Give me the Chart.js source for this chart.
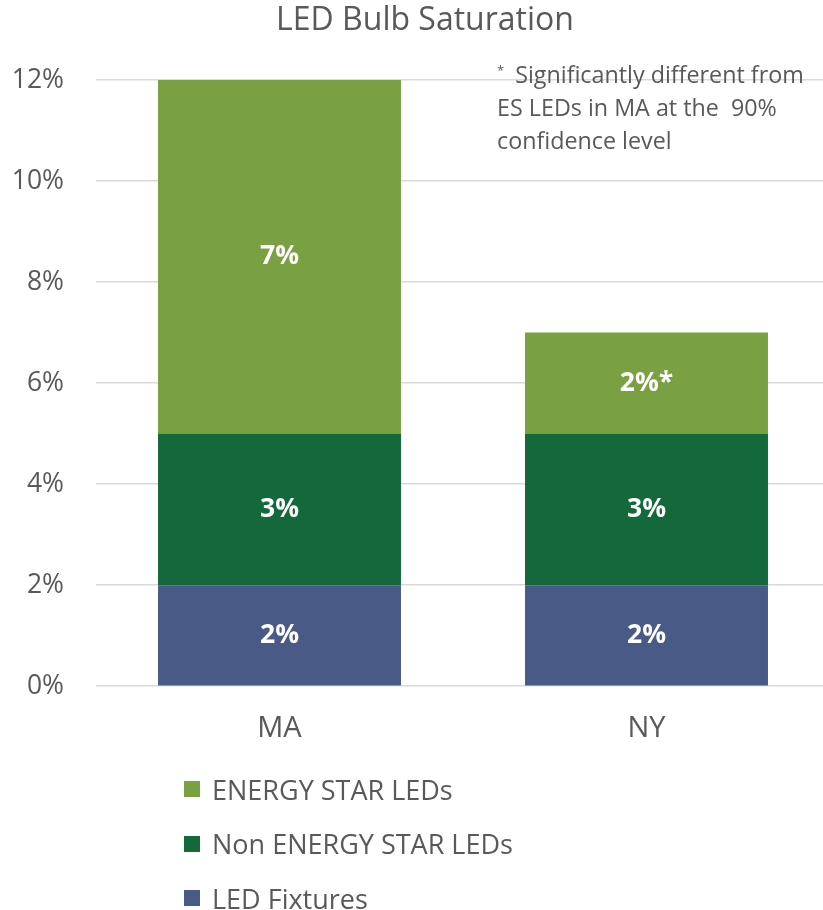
<!DOCTYPE html>
<html>
<head>
<meta charset="utf-8">
<script src="https://cdn.jsdelivr.net/npm/chart.js@4.4.0/dist/chart.umd.min.js"></script>
<style>
	html, body { margin: 0; padding: 0; background: #fff; overflow: hidden; }
	#wrap { position: relative; width: 840px; height: 910px; font-family: "Open Sans", sans-serif; color: #595959; }
	#barChart { position: absolute; left: 0; top: 0; }
	#note { position: absolute; left: 497px; top: 58px; font-size: 23.3px; line-height: 33px; }
	#note sup { font-size: 13px; vertical-align: 8px; line-height: 0; margin-right: 11px; }
	#legend { position: absolute; left: 184px; top: 762px; font-size: 27px; }
	#legend .item { height: 54.5px; display: flex; align-items: center; }
	#legend .box { width: 16px; height: 16px; margin-right: 12px; }
</style>
</head>
<body>
<div id="wrap">
	<canvas id="barChart" width="840" height="781"></canvas>
	<div id="note"><sup>*</sup>Significantly different from<br>ES LEDs in MA at the &nbsp;90%<br>confidence level</div>
	<div id="legend"></div>
</div>
<script>
// chart data
let categories = ['MA', 'NY'];
let fixtures = [2, 2];
let nonEnergyStar = [3, 3];
let energyStar = [7, 2];
let energyStarNotes = ['', '*'];
let yMin = 0, yMax = 12, yStep = 2;

let textColor = '#595959';
let fontFamily = '"Open Sans"';

// white value labels in the middle of every segment
let segmentLabels = {
	id: 'segmentLabels',
	afterDatasetsDraw(chart) {
		let ctx = chart.ctx;
		ctx.save();
		ctx.fillStyle = '#ffffff';
		ctx.font = 'bold 26.5px ' + fontFamily;
		ctx.textAlign = 'center';
		ctx.textBaseline = 'middle';
		chart.data.datasets.forEach((ds, i) => {
			chart.getDatasetMeta(i).data.forEach((bar, j) => {
				let p = bar.getCenterPoint();
				let note = ds.notes ? ds.notes[j] : '';
				ctx.fillText(ds.data[j] + '%' + note, p.x, p.y);
			});
		});
		ctx.restore();
	}
};

// let the y tick labels use the left padding too (otherwise they get clipped)
let widenYAxis = {
	id: 'widenYAxis',
	afterLayout(chart) {
		chart.scales.y.left = 0;
	}
};

let data = {
	labels: categories,
	datasets: [
		{ label: 'LED Fixtures', data: fixtures, backgroundColor: '#4A5A86' },
		{ label: 'Non ENERGY STAR LEDs', data: nonEnergyStar, backgroundColor: '#13683C' },
		{ label: 'ENERGY STAR LEDs', data: energyStar, notes: energyStarNotes, backgroundColor: '#79A141' }
	]
};

let options = {
	responsive: false,
	animation: false,
	layout: { padding: { left: 20, right: 10, top: 0, bottom: 18 } },
	datasets: { bar: { categoryPercentage: 1, barPercentage: 0.662 } },
	plugins: {
		legend: { display: false },
		tooltip: { enabled: false },
		title: {
			display: true,
			text: 'LED Bulb Saturation',
			color: textColor,
			font: { family: fontFamily, size: 32, weight: 'normal', lineHeight: 1.2 },
			padding: { top: 2, bottom: 39.6 }
		}
	},
	scales: {
		x: {
			stacked: true,
			grid: { display: false },
			border: { display: false },
			ticks: { color: textColor, font: { family: fontFamily, size: 29 }, padding: 17 }
		},
		y: {
			stacked: true,
			min: yMin,
			max: yMax,
			afterFit: s => { s.width = 76; },
			grid: { color: '#d9d9d9', lineWidth: 1.5, drawTicks: false },
			border: { display: false },
			ticks: {
				stepSize: yStep,
				color: textColor,
				padding: 32,
				font: { family: fontFamily, size: 26.5 },
				callback: v => v + '%'
			}
		}
	}
};

let chart = new Chart('barChart', {
	type: 'bar',
	data: data,
	options: options,
	plugins: [segmentLabels, widenYAxis]
});

// vertical legend, top item = top of the stack
let legend = document.getElementById('legend');
data.datasets.slice().reverse().forEach(ds => {
	let row = document.createElement('div');
	row.className = 'item';
	row.innerHTML = '<span class="box" style="background:' + ds.backgroundColor + '"></span><span>' + ds.label + '</span>';
	legend.appendChild(row);
});
</script>
</body>
</html>
